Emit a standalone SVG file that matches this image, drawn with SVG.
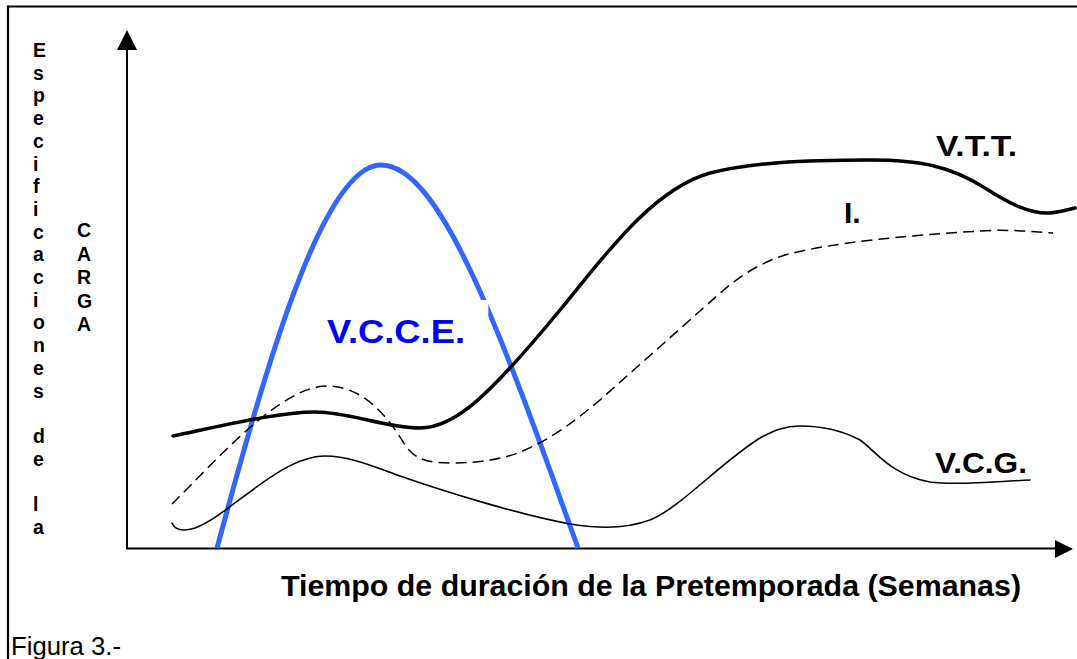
<svg xmlns="http://www.w3.org/2000/svg" width="1077" height="659" viewBox="0 0 1077 659">
  <style>
    .frame { stroke: #000; stroke-width: 2.2; fill: none; }
    .axis { stroke: #000; stroke-width: 2; fill: none; }
    .head { fill: #000; stroke: none; }
    .vtt { stroke: #000; stroke-width: 3.5; fill: none; stroke-linecap: round; }
    .ind { stroke: #000; stroke-width: 1.5; fill: none; stroke-dasharray: 11 6; }
    .vcg { stroke: #000; stroke-width: 1.6; fill: none; stroke-linecap: round; }
    .vcce { stroke: #3366FF; stroke-width: 5; fill: none; }
    .lbl { font-family: "Liberation Sans", Arial, sans-serif; font-weight: bold; fill: #000; }
    .vert { font-family: "Liberation Sans", Arial, sans-serif; font-weight: bold; font-size: 19.5px; fill: #000; }
    .cap { font-family: "Liberation Sans", Arial, sans-serif; font-size: 25px; fill: #000; }
  </style>
  <rect x="0" y="0" width="1077" height="659" fill="#fff"/>

  <g id="frame">
    <line class="frame" x1="8" y1="6.5" x2="1077" y2="6.5"/>
    <line class="frame" x1="8" y1="5.5" x2="8" y2="659"/>
  </g>

  <g id="axes">
    <line class="axis" x1="127" y1="548.5" x2="127" y2="48"/>
    <polygon class="head" points="127,30 117,50 137,50"/>
    <line class="axis" x1="126" y1="548.5" x2="1056" y2="548.5"/>
    <polygon class="head" points="1073,549 1055,540 1055,558"/>
  </g>

  <g id="connectors">
    <g id="curve-vcce">
      <path class="vcce" d="M217,548 C260,390 320,165 381,165 C440,165 500,330 578,548"/>
      <rect x="300" y="300" width="188.3" height="18" fill="#fff"/>
    </g>
    <g id="curve-vtt">
      <path class="vtt" d="M173,436 C230,424 280,412 315,412 C350,412 385,428 420,428 C455,428 490,395 560,310 C600,262 650,190 710,173 C750,163 800,160 870,160 C920,160 950,166 985,188 C1010,204 1030,214 1050,213 C1060,212 1067,210 1075,208"/>
    </g>
    <g id="curve-i">
      <path class="ind" d="M172,504 C215,462 280,386 327,386 C365,386 390,420 405,445 C415,460 430,463 450,463 C480,463 505,459 525,450 C550,439 570,425 600,400 L700,311 C725,289 745,268 785,255 C830,243 900,236 980,231 C1010,229 1035,232 1053,233"/>
    </g>
    <g id="curve-vcg">
      <path class="vcg" d="M172,523 C175,530 182,532 195,528 C230,515 280,456 325,456 C350,456 375,467 400,476 C440,490 520,515 570,524 C590,527 620,531 650,520 C680,508 720,463 760,438 C775,430 785,426 800,426 C825,426 845,432 860,440 C875,450 890,475 930,482 C960,486 1000,481 1030,480"/>
    </g>
  </g>

  <g id="label-vcce">
    <text class="lbl" x="327" y="343" font-size="34" textLength="138" lengthAdjust="spacingAndGlyphs" style="fill:#0000FF">V.C.C.E.</text>
  </g>
  <g id="label-vtt">
    <text class="lbl" x="936" y="156" font-size="29.5" textLength="81" lengthAdjust="spacingAndGlyphs">V.T.T.</text>
  </g>
  <g id="label-i">
    <text class="lbl" x="844" y="223" font-size="30">I.</text>
  </g>
  <g id="label-vcg">
    <text class="lbl" x="935" y="473" font-size="30" textLength="92" lengthAdjust="spacingAndGlyphs">V.C.G.</text>
  </g>

  <g id="y-label-especificaciones">
    <text class="vert" x="33">
      <tspan x="33" y="57">E</tspan>
      <tspan x="33" y="79.7">s</tspan>
      <tspan x="33" y="102.4">p</tspan>
      <tspan x="33" y="125.1">e</tspan>
      <tspan x="33" y="147.8">c</tspan>
      <tspan x="33" y="170.5">i</tspan>
      <tspan x="33" y="193.2">f</tspan>
      <tspan x="33" y="215.9">i</tspan>
      <tspan x="33" y="238.6">c</tspan>
      <tspan x="33" y="261.3">a</tspan>
      <tspan x="33" y="284">c</tspan>
      <tspan x="33" y="306.7">i</tspan>
      <tspan x="33" y="329.4">o</tspan>
      <tspan x="33" y="352.1">n</tspan>
      <tspan x="33" y="374.8">e</tspan>
      <tspan x="33" y="397.5">s</tspan>
      <tspan x="33" y="442.9">d</tspan>
      <tspan x="33" y="465.6">e</tspan>
      <tspan x="33" y="511">l</tspan>
      <tspan x="33" y="533.7">a</tspan>
    </text>
  </g>

  <g id="y-label-carga">
    <text class="vert" x="77">
      <tspan x="77" y="237">C</tspan>
      <tspan x="77" y="260.5">A</tspan>
      <tspan x="77" y="284">R</tspan>
      <tspan x="77" y="307.5">G</tspan>
      <tspan x="77" y="331">A</tspan>
    </text>
  </g>

  <g id="x-label">
    <text class="lbl" x="281" y="596" font-size="30" textLength="740" lengthAdjust="spacingAndGlyphs">Tiempo de duración de la Pretemporada (Semanas)</text>
  </g>

  <g id="caption">
    <text class="cap" x="11" y="655" textLength="110" lengthAdjust="spacingAndGlyphs">Figura 3.-</text>
  </g>
</svg>
